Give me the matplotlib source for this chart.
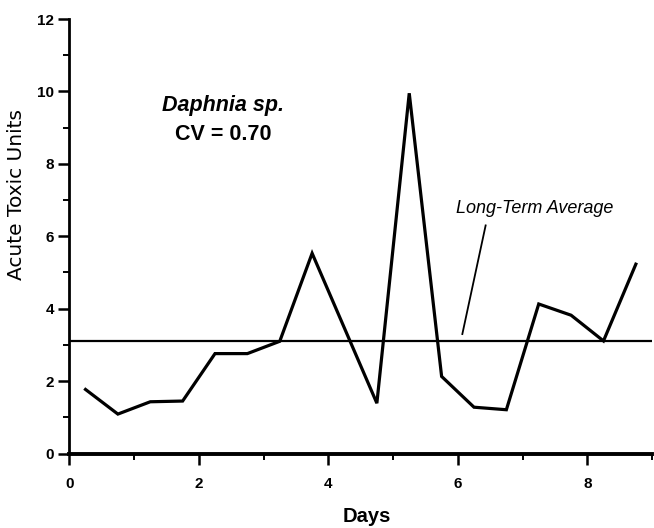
import matplotlib.pyplot as plt
from matplotlib.ticker import MultipleLocator

plt.rcParams['font.family'] = ['Liberation Sans', 'DejaVu Sans']

days = [0.25, 0.75, 1.25, 1.75, 2.25, 2.75, 3.25, 3.75, 4.25,
        4.75, 5.25, 5.75, 6.25, 6.75, 7.25, 7.75, 8.25, 8.75]
toxic_units = [1.77, 1.09, 1.43, 1.45, 2.76, 2.76, 3.1, 5.53, 3.46,
               1.39, 9.95, 2.13, 1.28, 1.21, 4.13, 3.82, 3.11, 5.23]
long_term_avg = 3.11

fig = plt.figure(figsize=(6.54, 5.28), dpi=100)
ax = fig.add_axes([0.106, 0.141, 0.891, 0.823])

ax.plot(days, toxic_units, color='black', linewidth=2.3, solid_joinstyle='miter')
ax.axhline(long_term_avg, color='black', linewidth=1.6)

ax.set_xlim(0, 9)
ax.set_ylim(0, 12)
ax.spines['top'].set_visible(False)
ax.spines['right'].set_visible(False)
ax.spines['left'].set_linewidth(2)
ax.spines['bottom'].set_linewidth(2.8)

ax.xaxis.set_major_locator(MultipleLocator(2))
ax.xaxis.set_minor_locator(MultipleLocator(1))
ax.yaxis.set_major_locator(MultipleLocator(2))
ax.yaxis.set_minor_locator(MultipleLocator(1))
ax.tick_params(which='major', direction='out', length=8, width=1.8,
               labelsize=11)
ax.tick_params(axis='x', which='major', pad=9)
ax.tick_params(axis='y', which='major', pad=3)
ax.tick_params(which='minor', direction='out', length=4.5, width=1.4)
for lbl in ax.get_xticklabels() + ax.get_yticklabels():
    lbl.set_fontweight('bold')

ax.set_xlabel('Days', fontsize=14.5, fontweight='bold', va='top')
ax.xaxis.set_label_coords(0.51, -0.122)
ax.set_ylabel('Acute Toxic Units', fontsize=14.5, family=['DejaVu Sans'])
ax.yaxis.set_label_coords(-0.074, 0.595)

ax.text(2.37, 9.46, 'Daphnia sp.', fontsize=15.5, fontweight='bold',
        style='italic', ha='center', va='baseline')
ax.text(2.37, 8.66, 'CV = 0.70', fontsize=15.5, fontweight='bold',
        ha='center', va='baseline')

ax.text(7.18, 6.64, 'Long-Term Average', fontsize=13, style='italic',
        ha='center', va='baseline')
ax.plot([6.43, 6.07], [6.3, 3.3], color='black', linewidth=1.3)

fig.savefig('out.png', dpi=100)
